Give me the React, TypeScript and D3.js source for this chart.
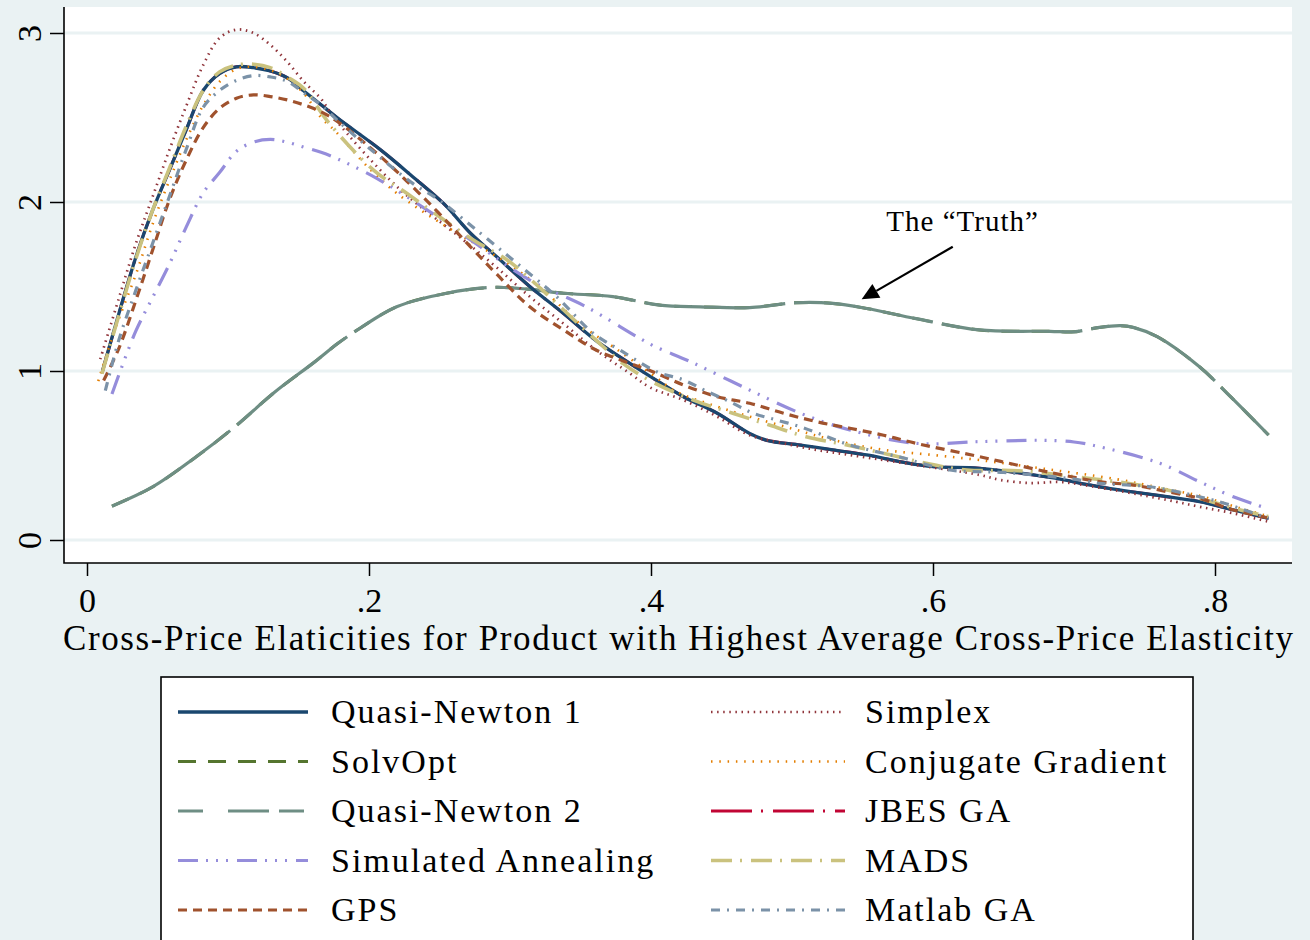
import { useEffect, useRef } from "react";
import * as d3 from "d3";

type Pt = [number, number];

// kernel density curves: [elasticity, density]
const quasiNewton1: Pt[] = [
  [0.011, 1.0], [0.0345, 1.67], [0.0465, 1.95], [0.0585, 2.19], [0.0705, 2.43], [0.0824, 2.66],
  [0.094, 2.76], [0.106, 2.8], [0.118, 2.795], [0.13, 2.775], [0.142, 2.735], [0.154, 2.655],
  [0.166, 2.575], [0.178, 2.495], [0.208, 2.31], [0.231, 2.15], [0.253, 1.99], [0.272, 1.815],
  [0.29, 1.68], [0.314, 1.5], [0.338, 1.34], [0.361, 1.18], [0.385, 1.045], [0.4, 0.965],
  [0.423, 0.848], [0.447, 0.75], [0.47, 0.63], [0.482, 0.59], [0.506, 0.562], [0.529, 0.533],
  [0.553, 0.503], [0.577, 0.463], [0.6, 0.434], [0.633, 0.424], [0.683, 0.37], [0.718, 0.315],
  [0.766, 0.256], [0.789, 0.227], [0.813, 0.178], [0.838, 0.128],
];
const jbesGA: Pt[] = [
  [0.011, 1.0], [0.0345, 1.67], [0.0465, 1.95], [0.0585, 2.19], [0.0705, 2.43], [0.0824, 2.66],
  [0.094, 2.76], [0.106, 2.8], [0.118, 2.795], [0.13, 2.775], [0.142, 2.735], [0.154, 2.655],
  [0.166, 2.575], [0.178, 2.495], [0.208, 2.31], [0.231, 2.15], [0.253, 1.99], [0.272, 1.815],
  [0.29, 1.68], [0.314, 1.5], [0.338, 1.34], [0.361, 1.18], [0.385, 1.045], [0.4, 0.965],
  [0.423, 0.848], [0.447, 0.75], [0.47, 0.63], [0.482, 0.59], [0.506, 0.562], [0.529, 0.533],
  [0.553, 0.503], [0.577, 0.463], [0.6, 0.434], [0.633, 0.424], [0.683, 0.37], [0.718, 0.315],
  [0.766, 0.256], [0.789, 0.227], [0.813, 0.178], [0.838, 0.128],
];
const simplex: Pt[] = [
  [0.0094, 1.07], [0.0226, 1.43], [0.0345, 1.75], [0.0465, 2.03], [0.0585, 2.31], [0.0705, 2.57],
  [0.0824, 2.81], [0.094, 2.97], [0.106, 3.02], [0.118, 3.0], [0.13, 2.93], [0.142, 2.83],
  [0.154, 2.71], [0.166, 2.61], [0.176, 2.49], [0.22, 2.09], [0.267, 1.775], [0.29, 1.617],
  [0.314, 1.44], [0.338, 1.28], [0.361, 1.124], [0.385, 0.986], [0.4, 0.9], [0.423, 0.828],
  [0.447, 0.73], [0.47, 0.62], [0.494, 0.572], [0.5175, 0.533], [0.541, 0.503], [0.565, 0.473],
  [0.588, 0.444], [0.633, 0.385], [0.648, 0.355], [0.669, 0.337], [0.69, 0.343], [0.711, 0.32],
  [0.766, 0.237], [0.789, 0.197], [0.813, 0.158], [0.838, 0.108],
];
const truth: Pt[] = [
  [0.0177, 0.2], [0.0465, 0.314], [0.0777, 0.494], [0.104, 0.664], [0.133, 0.874], [0.1615, 1.054],
  [0.178, 1.164], [0.1936, 1.253], [0.2196, 1.38], [0.255, 1.46], [0.288, 1.495], [0.314, 1.483],
  [0.338, 1.46], [0.373, 1.44], [0.406, 1.39], [0.435, 1.38], [0.47, 1.375], [0.503, 1.404],
  [0.529, 1.4], [0.553, 1.37], [0.588, 1.31], [0.633, 1.243], [0.683, 1.235], [0.7, 1.232],
  [0.718, 1.258], [0.733, 1.268], [0.742, 1.258], [0.759, 1.203], [0.789, 1.025], [0.811, 0.848],
  [0.838, 0.621],
];
const solvOpt: Pt[] = truth.map((d) => [d[0], d[1]] as Pt);
const gps: Pt[] = [
  [0.0118, 0.944], [0.0226, 1.134], [0.0345, 1.414], [0.0465, 1.714], [0.0585, 2.014], [0.0705, 2.25],
  [0.0824, 2.44], [0.094, 2.554], [0.106, 2.614], [0.118, 2.634], [0.13, 2.624], [0.142, 2.604],
  [0.154, 2.574], [0.166, 2.534], [0.178, 2.474], [0.208, 2.27], [0.243, 1.99], [0.272, 1.735],
  [0.29, 1.578], [0.314, 1.38], [0.338, 1.243], [0.361, 1.124], [0.385, 1.045], [0.4, 1.0],
  [0.423, 0.917], [0.447, 0.848], [0.47, 0.809], [0.494, 0.75], [0.5175, 0.7], [0.541, 0.661],
  [0.565, 0.62], [0.588, 0.572], [0.633, 0.493], [0.648, 0.465], [0.683, 0.4], [0.718, 0.345],
  [0.742, 0.325], [0.766, 0.286], [0.789, 0.247], [0.813, 0.178], [0.838, 0.13],
];
const simAnnealing: Pt[] = [
  [0.0177, 0.864], [0.0345, 1.234], [0.0465, 1.434], [0.0585, 1.634], [0.0705, 1.854], [0.0824, 2.054],
  [0.094, 2.174], [0.106, 2.3], [0.118, 2.354], [0.13, 2.37], [0.142, 2.354], [0.154, 2.324],
  [0.166, 2.294], [0.178, 2.254], [0.2055, 2.14], [0.243, 1.943], [0.279, 1.735], [0.314, 1.538],
  [0.354, 1.38], [0.39, 1.203], [0.402, 1.148], [0.428, 1.055], [0.465, 0.907], [0.506, 0.75],
  [0.541, 0.651], [0.588, 0.572], [0.633, 0.582], [0.676, 0.59], [0.7, 0.58], [0.718, 0.552],
  [0.761, 0.454], [0.789, 0.345], [0.813, 0.256], [0.837, 0.187],
];
const mads: Pt[] = [
  [0.0106, 0.984], [0.0345, 1.66], [0.0465, 1.95], [0.0585, 2.2], [0.0705, 2.45], [0.0824, 2.66],
  [0.094, 2.77], [0.106, 2.81], [0.118, 2.815], [0.13, 2.795], [0.142, 2.74], [0.154, 2.67],
  [0.171, 2.474], [0.203, 2.19], [0.227, 2.05], [0.25, 1.913], [0.274, 1.775], [0.298, 1.657],
  [0.319, 1.509], [0.338, 1.361], [0.361, 1.183], [0.38, 1.045], [0.4, 0.94], [0.43, 0.828],
  [0.458, 0.75], [0.484, 0.68], [0.51, 0.611], [0.539, 0.562], [0.565, 0.513], [0.595, 0.454],
  [0.624, 0.414], [0.66, 0.41], [0.7, 0.375], [0.73, 0.345], [0.766, 0.296], [0.789, 0.247],
  [0.818, 0.178], [0.838, 0.138],
];
const conjGradient: Pt[] = [
  [0.008, 0.94], [0.02, 1.25], [0.035, 1.58], [0.047, 1.88], [0.059, 2.14], [0.071, 2.38],
  [0.083, 2.58], [0.095, 2.72], [0.107, 2.79], [0.118, 2.8], [0.13, 2.78], [0.142, 2.73],
  [0.154, 2.64], [0.166, 2.5], [0.176, 2.42], [0.2, 2.2], [0.22, 2.05], [0.255, 1.854],
  [0.279, 1.735], [0.302, 1.617], [0.326, 1.46], [0.352, 1.262], [0.373, 1.144], [0.4, 0.985],
  [0.418, 0.878], [0.447, 0.789], [0.47, 0.73], [0.499, 0.661], [0.529, 0.592], [0.565, 0.533],
  [0.6, 0.503], [0.633, 0.473], [0.68, 0.42], [0.73, 0.36], [0.766, 0.3], [0.79, 0.26],
  [0.813, 0.2], [0.838, 0.14],
];
const matlabGA: Pt[] = [
  [0.013, 0.884], [0.0226, 1.184], [0.0345, 1.474], [0.0465, 1.754], [0.0585, 2.034], [0.0705, 2.314],
  [0.0824, 2.56], [0.094, 2.66], [0.106, 2.72], [0.118, 2.748], [0.13, 2.74], [0.142, 2.714],
  [0.154, 2.644], [0.166, 2.574], [0.178, 2.48], [0.2, 2.32], [0.231, 2.11], [0.25, 2.01],
  [0.279, 1.815], [0.305, 1.637], [0.333, 1.44], [0.359, 1.223], [0.378, 1.124], [0.404, 0.996],
  [0.423, 0.947], [0.44, 0.878], [0.456, 0.818], [0.4726, 0.75], [0.489, 0.71], [0.506, 0.67],
  [0.522, 0.62], [0.541, 0.562], [0.565, 0.513], [0.577, 0.49], [0.612, 0.414], [0.65, 0.4],
  [0.7, 0.36], [0.718, 0.335], [0.754, 0.315], [0.789, 0.256], [0.806, 0.219], [0.838, 0.128],
];

const xTicks = [0, 0.2, 0.4, 0.6, 0.8];
const yTicks = [0, 1, 2, 3];
const xTitle = "Cross-Price Elaticities for Product with Highest Average Cross-Price Elasticity";
const noteText = "The \u201cTruth\u201d";
const noteTextAt: Pt = [0.621, 1.83];
const arrowFrom: Pt = [0.614, 1.735];
const arrowTo: Pt = [0.5494, 1.424];

type Series = {
  name: string;
  data: Pt[];
  color: string;
  dash: string | null;
  legendDash?: string;
  width: number;
  col: number;
  row: number;
};

// draw order: bottom first
const SERIES: Series[] = [
  { name: "JBES GA", data: jbesGA, color: "#c10534", dash: "41,9,2,10", width: 3, col: 1, row: 2 },
  { name: "SolvOpt", data: solvOpt, color: "#55752f", dash: "18,12", width: 3, col: 0, row: 1 },
  { name: "Quasi-Newton 2", data: truth, color: "#6e8e84", dash: "141,9", legendDash: "25,25,41,10", width: 3.2, col: 0, row: 2 },
  { name: "Quasi-Newton 1", data: quasiNewton1, color: "#1a476f", dash: null, width: 3.3, col: 0, row: 0 },
  { name: "Simplex", data: simplex, color: "#90353b", dash: "1.5,4.6", width: 2.7, col: 1, row: 0 },
  { name: "Conjugate Gradient", data: conjGradient, color: "#e37e00", dash: "1.5,6.8", width: 2.6, col: 1, row: 1 },
  { name: "Simulated Annealing", data: simAnnealing, color: "#958ddb", dash: "20,8,2,8,2,8,2,9", width: 3.2, col: 0, row: 3 },
  { name: "MADS", data: mads, color: "#cac27e", dash: "21,8,2,9", width: 3.6, col: 1, row: 3 },
  { name: "GPS", data: gps, color: "#a0522d", dash: "9,6", width: 3.2, col: 0, row: 4 },
  { name: "Matlab GA", data: matlabGA, color: "#7b92a8", dash: "9,7,2,7", width: 3.2, col: 1, row: 4 },
];

const W = 1310;
const H = 940;
const FONT = "'Liberation Serif', 'Times New Roman', serif";
const BG = "#eaf2f3";

export default function App() {
  const ref = useRef<SVGSVGElement | null>(null);

  useEffect(() => {
    const svg = d3.select(ref.current);
    svg.selectAll("*").remove();

    const plot = { left: 64, right: 1292, top: 7, bottom: 563 };
    const x = d3.scaleLinear().domain([0, 0.8]).range([87, 1215]);
    const y = d3.scaleLinear().domain([0, 3]).range([540, 33]);

    svg.append("rect").attr("width", W).attr("height", H).attr("fill", BG);
    svg
      .append("rect")
      .attr("x", plot.left)
      .attr("y", plot.top)
      .attr("width", plot.right - plot.left)
      .attr("height", plot.bottom - plot.top)
      .attr("fill", "#fff");

    // gridlines
    svg
      .append("g")
      .selectAll("line")
      .data(yTicks)
      .join("line")
      .attr("x1", plot.left)
      .attr("x2", plot.right)
      .attr("y1", (d) => y(d))
      .attr("y2", (d) => y(d))
      .attr("stroke", BG)
      .attr("stroke-width", 3);

    svg
      .append("clipPath")
      .attr("id", "plotclip")
      .append("rect")
      .attr("x", plot.left)
      .attr("y", plot.top)
      .attr("width", plot.right - plot.left)
      .attr("height", plot.bottom - plot.top);

    const line = d3
      .line<Pt>()
      .x((d) => x(d[0]))
      .y((d) => y(d[1]))
      .curve(d3.curveCatmullRom.alpha(0.5));

    const lines = svg.append("g").attr("clip-path", "url(#plotclip)");
    SERIES.forEach((s) => {
      lines
        .append("path")
        .datum(s.data)
        .attr("d", line)
        .attr("fill", "none")
        .attr("stroke", s.color)
        .attr("stroke-width", s.width)
        .attr("stroke-dasharray", s.dash ?? null)
        .attr("stroke-linejoin", "round");
    });

    // axes
    const xAxis = svg
      .append("g")
      .attr("transform", `translate(0,${plot.bottom})`)
      .call(
        d3
          .axisBottom(x)
          .tickValues(xTicks)
          .tickSize(13)
          .tickPadding(8)
          .tickFormat((d) => (+d === 0 ? "0" : d3.format(".1f")(+d).replace(/^0/, ""))),
      );
    xAxis.select(".domain").remove();
    xAxis.selectAll("line").attr("stroke", "#000").attr("stroke-width", 1.5);
    xAxis
      .selectAll("text")
      .attr("fill", "#000")
      .attr("font-family", FONT)
      .attr("font-size", 34)
      .attr("dy", 0)
      .attr("y", 49);

    const yAxis = svg
      .append("g")
      .attr("transform", `translate(${plot.left},0)`)
      .call(d3.axisLeft(y).tickValues(yTicks).tickSize(14).tickFormat(d3.format("d")));
    yAxis.select(".domain").remove();
    yAxis.selectAll("line").attr("stroke", "#000").attr("stroke-width", 1.5);
    yAxis
      .selectAll("text")
      .attr("fill", "#000")
      .attr("font-family", FONT)
      .attr("font-size", 34)
      .attr("x", 0)
      .attr("dy", 0)
      .attr("text-anchor", "middle")
      .attr("transform", "translate(-23,0) rotate(-90)");

    svg
      .append("path")
      .attr("d", `M${plot.left},${plot.top}V${plot.bottom}H${plot.right}`)
      .attr("fill", "none")
      .attr("stroke", "#000")
      .attr("stroke-width", 1.6);

    svg
      .append("text")
      .attr("x", (plot.left + plot.right) / 2)
      .attr("y", 650)
      .attr("text-anchor", "middle")
      .attr("font-family", FONT)
      .attr("font-size", 35)
      .attr("textLength", 1230)
      .attr("lengthAdjust", "spacing")
      .text(xTitle);

    // annotation
    const [tx, ty] = [x(arrowTo[0]), y(arrowTo[1])];
    const [fx, fy] = [x(arrowFrom[0]), y(arrowFrom[1])];
    const len = Math.hypot(fx - tx, fy - ty);
    const ux = (fx - tx) / len;
    const uy = (fy - ty) / len;
    const headL = 17;
    const headW = 8;
    const bx = tx + ux * headL;
    const by = ty + uy * headL;
    svg
      .append("line")
      .attr("x1", fx)
      .attr("y1", fy)
      .attr("x2", bx)
      .attr("y2", by)
      .attr("stroke", "#000")
      .attr("stroke-width", 2.2);
    svg
      .append("polygon")
      .attr(
        "points",
        [
          [tx, ty],
          [bx - uy * headW, by + ux * headW],
          [bx + uy * headW, by - ux * headW],
        ]
          .map((p) => p.join(","))
          .join(" "),
      )
      .attr("fill", "#000");
    svg
      .append("text")
      .attr("x", x(noteTextAt[0]))
      .attr("y", y(noteTextAt[1]))
      .attr("text-anchor", "middle")
      .attr("font-family", FONT)
      .attr("font-size", 29)
      .attr("letter-spacing", 1)
      .text(noteText);

    // legend
    const lg = svg.append("g");
    lg.append("rect")
      .attr("x", 161)
      .attr("y", 677)
      .attr("width", 1032)
      .attr("height", 320)
      .attr("fill", "#fff")
      .attr("stroke", "#000")
      .attr("stroke-width", 1.6);
    const colX = [
      { x1: 178, x2: 308, tx: 331 },
      { x1: 711, x2: 845, tx: 865 },
    ];
    SERIES.forEach((s) => {
      const c = colX[s.col];
      const ly = 712 + s.row * 49.5;
      lg.append("line")
        .attr("x1", c.x1)
        .attr("x2", c.x2)
        .attr("y1", ly)
        .attr("y2", ly)
        .attr("stroke", s.color)
        .attr("stroke-width", s.width)
        .attr("stroke-dasharray", s.legendDash ?? s.dash ?? null);
      lg.append("text")
        .attr("x", c.tx)
        .attr("y", ly + 11)
        .attr("font-family", FONT)
        .attr("font-size", 34)
        .attr("letter-spacing", 2)
        .text(s.name);
    });
  }, []);

  return (
    <svg
      ref={ref}
      width={W}
      height={H}
      style={{ position: "absolute", left: 0, top: 0, display: "block" }}
    />
  );
}
